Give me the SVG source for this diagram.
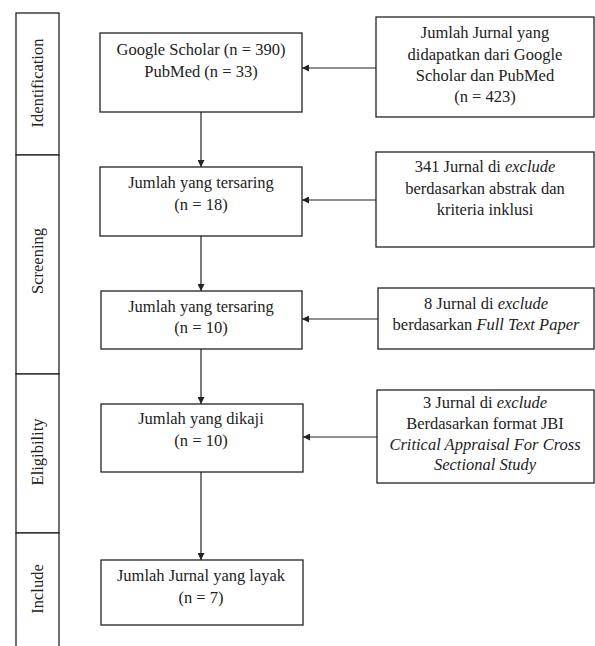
<svg xmlns="http://www.w3.org/2000/svg" width="595" height="646" viewBox="0 0 595 646">
<defs>
<style>
.box{fill:#fff;stroke:#222;stroke-width:1.3}
.t{font-family:"Liberation Serif","Times New Roman",serif;font-size:16.5px;fill:#222;text-anchor:middle}
.i{font-style:italic}
.ln{stroke:#222;stroke-width:1.2;fill:none}
</style>
<marker id="ah" viewBox="0 0 10 10" refX="10" refY="5" markerWidth="7" markerHeight="7" markerUnits="userSpaceOnUse" orient="auto">
<path d="M0,0 L10,5 L0,10 z" fill="#222"/>
</marker>
</defs>
<rect width="595" height="646" fill="#fff"/>
<g id="phases">
<rect class="box" x="16" y="13" width="43" height="142"/>
<rect class="box" x="16" y="155" width="43" height="219"/>
<rect class="box" x="16" y="374" width="43" height="159"/>
<rect class="box" x="16" y="533" width="43" height="120"/>
<text class="t" transform="translate(43,83) rotate(-90)">Identification</text>
<text class="t" transform="translate(43,261) rotate(-90)">Screening</text>
<text class="t" transform="translate(43,452) rotate(-90)">Eligibility</text>
<text class="t" transform="translate(43,589) rotate(-90)">Include</text>
</g>
<g id="n1">
<rect class="box" x="100" y="33" width="202" height="79"/>
<text class="t" x="201" y="55">Google Scholar (n = 390)</text>
<text class="t" x="201" y="77">PubMed (n = 33)</text>
</g>
<g id="n2">
<rect class="box" x="100" y="167" width="202" height="69"/>
<text class="t" x="201" y="188">Jumlah yang tersaring</text>
<text class="t" x="201" y="210">(n = 18)</text>
</g>
<g id="n3">
<rect class="box" x="101" y="291" width="201" height="58"/>
<text class="t" x="201" y="312">Jumlah yang tersaring</text>
<text class="t" x="201" y="333">(n = 10)</text>
</g>
<g id="n4">
<rect class="box" x="101" y="404" width="202" height="68"/>
<text class="t" x="201" y="424">Jumlah yang dikaji</text>
<text class="t" x="201" y="446">(n = 10)</text>
</g>
<g id="n5">
<rect class="box" x="101" y="560" width="202" height="65"/>
<text class="t" x="201" y="581">Jumlah Jurnal yang layak</text>
<text class="t" x="201" y="603">(n = 7)</text>
</g>
<g id="r1">
<rect class="box" x="376" y="17" width="218" height="100"/>
<text class="t" x="485" y="38">Jumlah Jurnal yang</text>
<text class="t" x="485" y="60">didapatkan dari Google</text>
<text class="t" x="485" y="81">Scholar dan PubMed</text>
<text class="t" x="485" y="102">(n = 423)</text>
</g>
<g id="r2">
<rect class="box" x="376" y="152" width="218" height="95"/>
<text class="t" x="485" y="172">341 Jurnal di <tspan class="i">exclude</tspan></text>
<text class="t" x="485" y="194">berdasarkan abstrak dan</text>
<text class="t" x="485" y="215">kriteria inklusi</text>
</g>
<g id="r3">
<rect class="box" x="378" y="288" width="216" height="61"/>
<text class="t" x="486" y="309">8 Jurnal di <tspan class="i">exclude</tspan></text>
<text class="t" x="486" y="330">berdasarkan <tspan class="i">Full Text Paper</tspan></text>
</g>
<g id="r4">
<rect class="box" x="377" y="390" width="217" height="93"/>
<text class="t" x="485" y="408">3 Jurnal di <tspan class="i">exclude</tspan></text>
<text class="t" x="485" y="429">Berdasarkan format JBI</text>
<text class="t i" x="485" y="450">Critical Appraisal For Cross</text>
<text class="t i" x="485" y="470">Sectional Study</text>
</g>
<g id="connectors">
<line class="ln" x1="201" y1="112" x2="201" y2="167" marker-end="url(#ah)"/>
<line class="ln" x1="201" y1="236" x2="201" y2="291" marker-end="url(#ah)"/>
<line class="ln" x1="201" y1="349" x2="201" y2="404" marker-end="url(#ah)"/>
<line class="ln" x1="201" y1="472" x2="201" y2="560" marker-end="url(#ah)"/>
<line class="ln" x1="376" y1="68" x2="302" y2="68" marker-end="url(#ah)"/>
<line class="ln" x1="376" y1="200" x2="302" y2="200" marker-end="url(#ah)"/>
<line class="ln" x1="378" y1="319" x2="302" y2="319" marker-end="url(#ah)"/>
<line class="ln" x1="377" y1="437" x2="303" y2="437" marker-end="url(#ah)"/>
</g>
</svg>
